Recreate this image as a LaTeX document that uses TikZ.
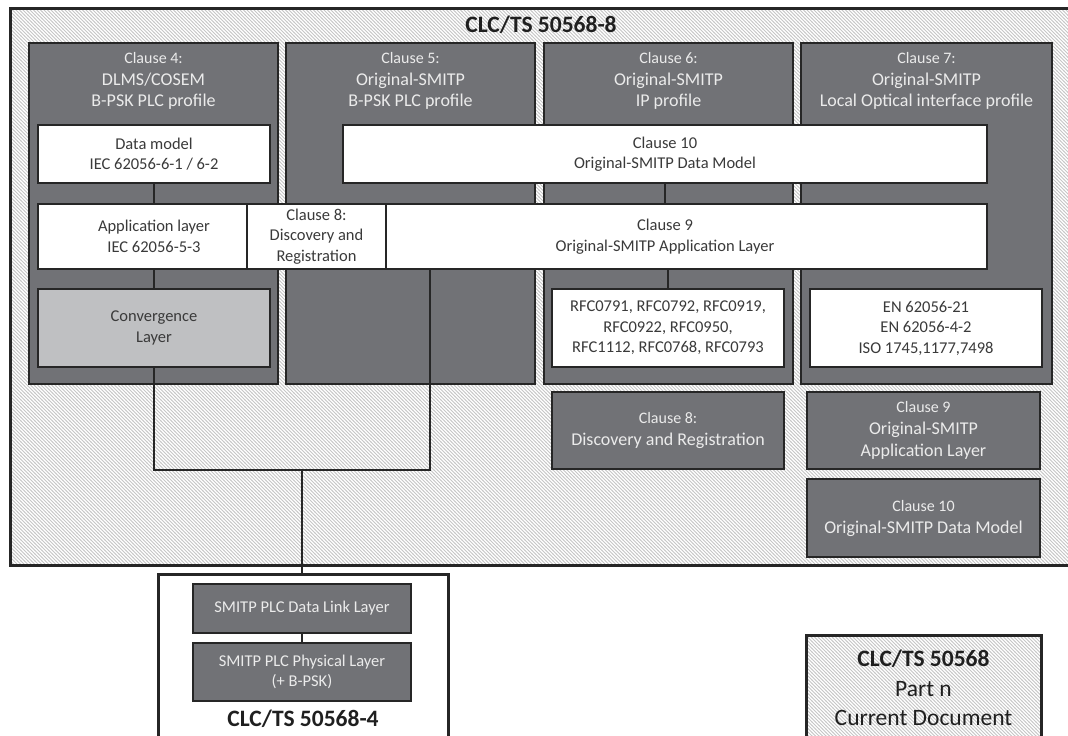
\documentclass[tikz,border=0pt]{standalone}
\usepackage{fontspec}
\setmainfont{Carlito}
\usetikzlibrary{patterns}
\pgfdeclarepatternformonly{hatchnw}{\pgfqpoint{-1pt}{-1pt}}{\pgfqpoint{4.5pt}{4.5pt}}{\pgfqpoint{3.5pt}{3.5pt}}{
  \pgfsetlinewidth{1pt}
  \pgfpathmoveto{\pgfqpoint{-0.2pt}{3.7pt}}
  \pgfpathlineto{\pgfqpoint{3.7pt}{-0.2pt}}
  \pgfusepath{stroke}
}
\definecolor{darkfill}{HTML}{717276}
\definecolor{convfill}{HTML}{BFC0C2}
\definecolor{edgecol}{HTML}{262626}
\definecolor{lighttext}{HTML}{EBEBEB}
\definecolor{darktext}{HTML}{3A3A3A}
\definecolor{hatchcol}{HTML}{C6C6C6}
\newcommand\setfs[2]{\fontsize{#1}{#2}\selectfont}
\tikzset{
  basebox/.style={draw=edgecol, line width=2.2pt, inner sep=0pt, align=center},
  colbox/.style={basebox, fill=darkfill},
  coltitle/.style={align=center, text=lighttext, inner sep=0pt, font=\setfs{18}{21.5}},
  whitebox/.style={basebox, fill=white, text=darktext, font=\setfs{16.5}{20.5}},
  convbox/.style={basebox, fill=convfill, text=darktext, font=\setfs{16.5}{21}},
  darkbox/.style={basebox, fill=darkfill, text=lighttext, font=\setfs{18}{22}},
  hatchbox/.style={draw=edgecol, line width=3pt, inner sep=0pt, pattern=hatchnw, pattern color=hatchcol},
  framebox/.style={draw=edgecol, line width=3pt, inner sep=0pt, fill=white},
  bigtitle/.style={inner sep=0pt, text=black!88, font=\setfs{23.5}{29.5}, align=center},
  conn/.style={draw=edgecol, line width=1.2pt}
}
\begin{document}
\begin{tikzpicture}[x=1pt, y=-1pt]
\useasboundingbox (0,0) rectangle (1068,736);

% outer hatched frame
\node[hatchbox, minimum width=1070pt, minimum height=557pt] (outer) at (545,286.5) {};
\node[bigtitle] (ttl) at (541,25) {\bfseries CLC/TS 50568-8};

% columns
\node[colbox, minimum width=249pt, minimum height=341pt] (col1) at (153.5,213.5) {};
\node[colbox, minimum width=249pt, minimum height=341pt] (col2) at (410.5,213.5) {};
\node[colbox, minimum width=249pt, minimum height=341pt] (col3) at (668.5,213.5) {};
\node[colbox, minimum width=251pt, minimum height=341pt] (col4) at (926.5,213.5) {};

\node[coltitle] (t1) at (153.5,81) {{\setfs{16}{21.5}Clause 4:}\\DLMS/COSEM\\B-PSK PLC profile};
\node[coltitle] (t2) at (410.5,81) {{\setfs{16}{21.5}Clause 5:}\\Original-SMITP\\B-PSK PLC profile};
\node[coltitle] (t3) at (668.5,81) {{\setfs{16}{21.5}Clause 6:}\\Original-SMITP\\IP profile};
\node[coltitle] (t4) at (926.5,81) {{\setfs{16}{21.5}Clause 7:}\\Original-SMITP\\Local Optical interface profile};

% white boxes
\node[whitebox, minimum width=232pt, minimum height=58pt] (dm) at (154,154) {Data model\\IEC 62056-6-1 / 6-2};
\node[whitebox, minimum width=644pt, minimum height=58pt] (c10w) at (665,154) {Clause 10\\Original-SMITP Data Model};
\node[whitebox, minimum width=232pt, minimum height=65pt] (app) at (154,236.5) {Application layer\\IEC 62056-5-3};
\node[whitebox, minimum width=644pt, minimum height=65pt] (c9w) at (665,236.5) {Clause 9\\Original-SMITP Application Layer};
\node[whitebox, minimum width=139pt, minimum height=65pt] (c8w) at (316.5,236.5) {Clause 8:\\Discovery and\\Registration};

\node[convbox, minimum width=232pt, minimum height=78pt] (conv) at (154,328) {Convergence\\Layer};
\node[whitebox, minimum width=232pt, minimum height=78pt] (rfc) at (668,328) {RFC0791, RFC0792, RFC0919,\\RFC0922, RFC0950,\\RFC1112, RFC0768, RFC0793};
\node[whitebox, minimum width=232pt, minimum height=78pt] (en) at (926,328) {EN 62056-21\\EN 62056-4-2\\ISO 1745,1177,7498};

% dark boxes outside columns
\node[darkbox, minimum width=232pt, minimum height=77pt] (c8d) at (668,430.5) {{\setfs{16}{22}Clause 8:}\\Discovery and Registration};
\node[darkbox, minimum width=233pt, minimum height=77pt] (c9d) at (923.5,430.5) {{\setfs{16}{22}Clause 9}\\Original-SMITP\\Application Layer};
\node[darkbox, minimum width=233pt, minimum height=78pt] (c10d) at (923.5,518) {{\setfs{16}{22}Clause 10}\\Original-SMITP Data Model};

% connectors inside columns
\draw[conn] (dm.south) -- (app.north);
\draw[conn] (app.south) -- (conv.north);
\draw[conn] (c10w.south) -- (c9w.north);
\draw[conn] (rfc.north |- c9w.south) -- (rfc.north);

% bottom-left frame
\node[framebox, minimum width=290pt, minimum height=186pt] (bot) at (303,667) {};
\node[darkbox, font=\setfs{16.5}{20.5}, minimum width=218pt, minimum height=49pt] (dll) at (302,608.5) {SMITP PLC Data Link Layer};
\node[darkbox, font=\setfs{16.5}{20.5}, minimum width=218pt, minimum height=58pt] (phy) at (302,672) {SMITP PLC Physical Layer\\(+ B-PSK)};
\node[bigtitle] (botlbl) at (303,719) {\bfseries CLC/TS 50568-4};
\draw[conn] (dll.south) -- (phy.north);

% joining connector
\coordinate (jl) at (154,470);
\coordinate (jr) at (430,470);
\coordinate (jm) at (302,470);
\draw[conn] (conv.south) -- (jl) -- (jr) -- (jr |- c9w.south);
\draw[conn] (jm) -- (jm |- bot.north);

% legend box
\node[hatchbox, minimum width=235pt, minimum height=125pt] (legend) at (923.5,697.5) {};
\node[bigtitle] (legtxt) at (923.5,688) {\bfseries CLC/TS 50568\\Part n\\Current Document};
\end{tikzpicture}
\end{document}
